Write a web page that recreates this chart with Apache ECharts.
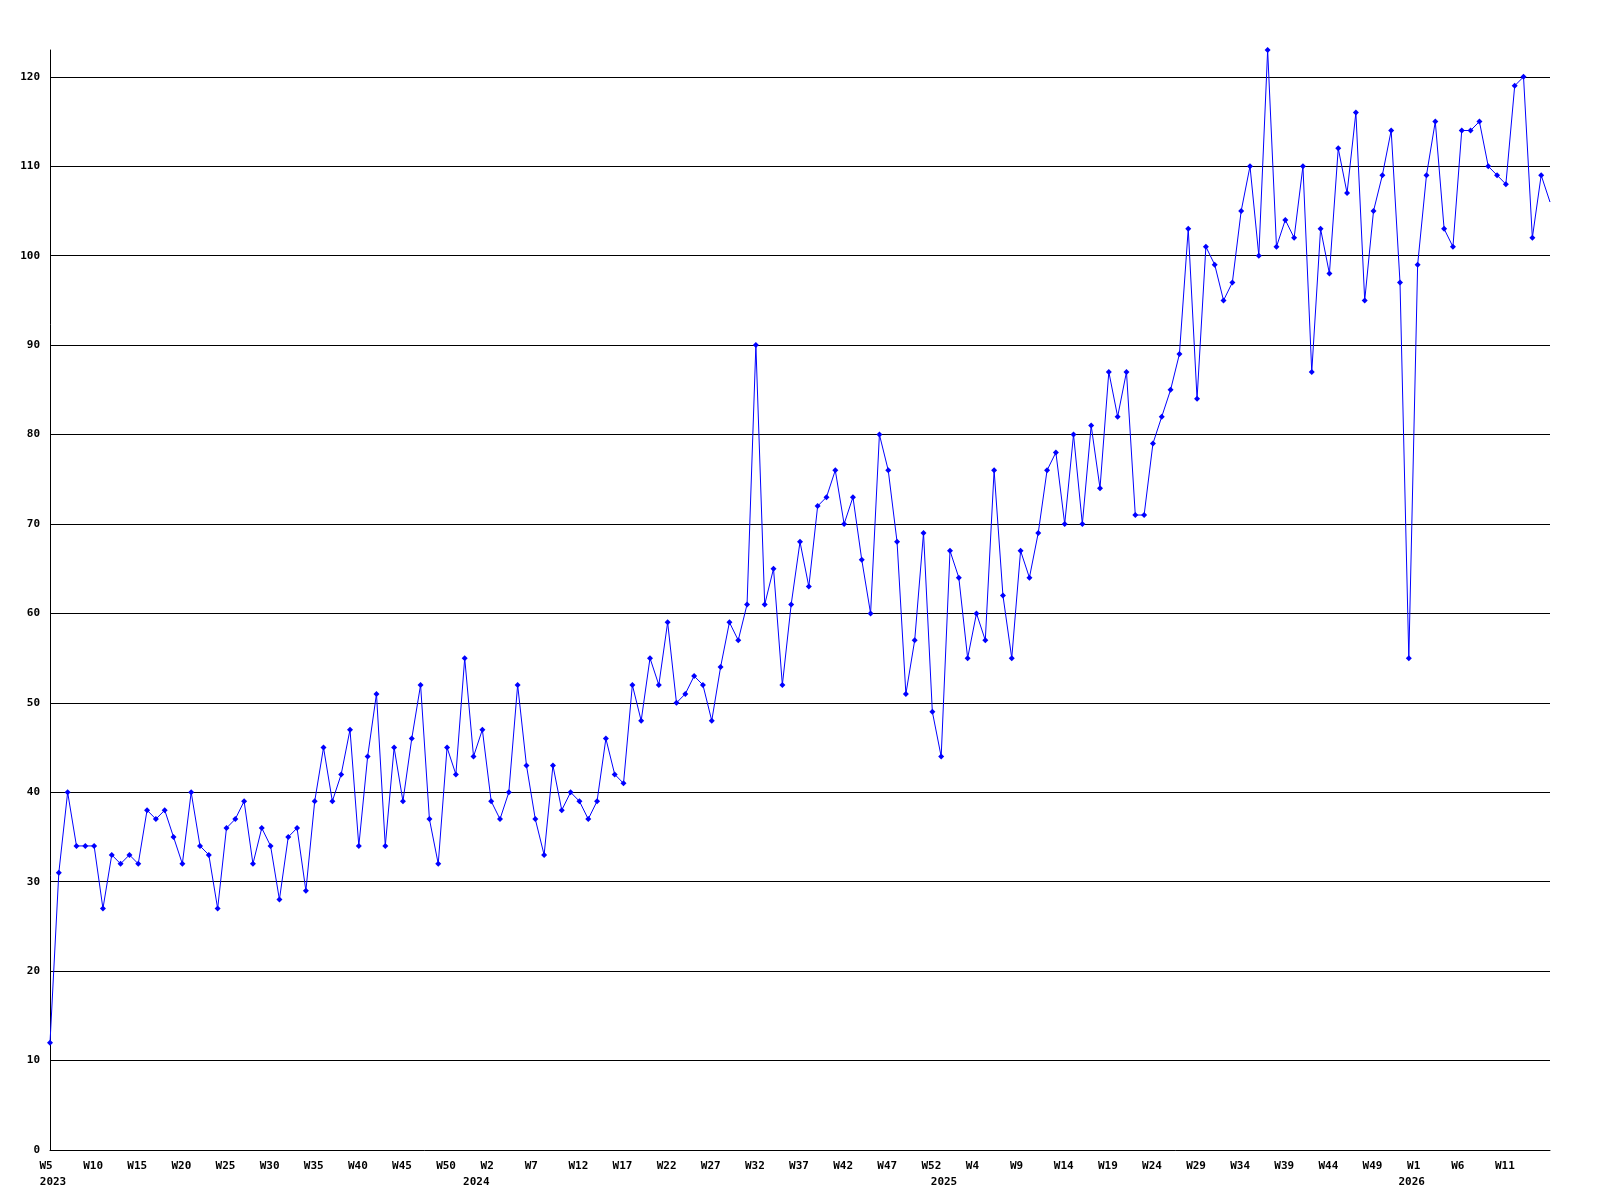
<!DOCTYPE html>
<html>
<head>
<meta charset="utf-8">
<script src="https://cdn.jsdelivr.net/npm/echarts@6/dist/echarts.min.js"></script>
<style>
html,body{margin:0;padding:0;background:#fff;}
#chart{width:1600px;height:1200px;}
</style>
</head>
<body>
<div id="chart"></div>
<script>
// Week spans per year: [year, first week, last week]
const yearSpans = [[2023, 5, 53], [2024, 1, 53], [2025, 1, 53], [2026, 1, 16]];
// Y-axis ticks
const yTicks = [0, 10, 20, 30, 40, 50, 60, 70, 80, 90, 100, 110, 120];
// Weekly values per year
const values2023 = [12,31,40,34,34,34,27,33,32,33,32,38,37,38,35,32,40,34,33,27,36,37,39,32,36,34,28,35,36,29,39,45,39,42,47,34,44,51,34,45,39,46,52,37,32,45,42,55,44];
const values2024 = [47,39,37,40,52,43,37,33,43,38,40,39,37,39,46,42,41,52,48,55,52,59,50,51,53,52,48,54,59,57,61,90,61,65,52,61,68,63,72,73,76,70,73,66,60,80,76,68,51,57,69,49,44];
const values2025 = [67,64,55,60,57,76,62,55,67,64,69,76,78,70,80,70,81,74,87,82,87,71,71,79,82,85,89,103,84,101,99,95,97,105,110,100,123,101,104,102,110,87,103,98,112,107,116,95,105,109,114,97,55];
const values2026 = [99,109,115,103,101,114,114,115,110,109,108,119,120,102,109,106];

const categories = [];
const catYear = [];
const catWeek = [];
yearSpans.forEach(function (s) {
  for (let w = s[1]; w <= s[2]; w++) {
    categories.push(s[0] + '-W' + w);
    catYear.push(s[0]);
    catWeek.push(w);
  }
});
const allValues = values2023.concat(values2024, values2025, values2026);
const seriesData = allValues.map(function (v, i) {
  return i === allValues.length - 1 ? { value: v, symbol: 'none' } : v;
});

const FONT = 'DejaVu Sans Mono';
const labelBase = { color: '#000', fontFamily: FONT, fontWeight: 'bold', fontSize: 11 };
const chart = echarts.init(document.getElementById('chart'), null, { renderer: 'canvas' });
chart.setOption({
  backgroundColor: '#ffffff',
  animation: false,
  grid: { left: 50, right: 50, top: 50, bottom: 50, containLabel: false },
  xAxis: [{
    type: 'category',
    data: categories,
    boundaryGap: false,
    position: 'bottom',
    axisLine: { show: true, lineStyle: { color: '#000', width: 1 } },
    axisTick: { show: false },
    splitLine: { show: false },
    axisLabel: Object.assign({}, labelBase, {
      interval: 4,
      margin: 8,
      lineHeight: 16,
      showMaxLabel: false,
      formatter: function (value, index) {
        const t = 'W' + catWeek[index];
        return t.length < 3 ? '{s|' + t + '}' : '{l|' + t + '}';
      },
      rich: {
        s: Object.assign({}, labelBase, { padding: [0, 8, 0, 0] }),
        l: Object.assign({}, labelBase, { padding: [0, 2, 0, 0] })
      }
    })
  }, {
    type: 'category',
    data: categories,
    boundaryGap: false,
    position: 'bottom',
    axisLine: { show: false },
    axisTick: { show: false },
    splitLine: { show: false },
    axisLabel: Object.assign({}, labelBase, {
      interval: function (index) { return index === 0 || catWeek[index] === 1; },
      margin: 24,
      lineHeight: 16,
      hideOverlap: false,
      formatter: function (value, index) {
        return index === 0 ? '{f|' + catYear[index] + '}' : '{y|' + catYear[index] + '}';
      },
      rich: {
        f: Object.assign({}, labelBase, { padding: [0, 0, 0, 6] }),
        y: Object.assign({}, labelBase, { padding: [0, 12, 0, 0] })
      }
    })
  }],
  yAxis: {
    type: 'value',
    min: yTicks[0],
    max: 123,
    interval: yTicks[1] - yTicks[0],
    axisLine: { show: true, lineStyle: { color: '#000', width: 1 } },
    axisTick: { show: false },
    splitLine: { show: true, showMinLine: false, showMaxLine: false, lineStyle: { color: '#000', width: 1 } },
    axisLabel: Object.assign({}, labelBase, {
      margin: 10,
      showMaxLabel: false,
      formatter: function (v) { return yTicks.indexOf(v) >= 0 ? String(v) : ''; }
    })
  },
  series: [{
    type: 'line',
    xAxisIndex: 0,
    data: seriesData,
    symbol: 'diamond',
    symbolSize: 6,
    showAllSymbol: true,
    clip: true,
    lineStyle: { color: '#0000ff', width: 1 },
    itemStyle: { color: '#0000ff' }
  }]
});
</script>
</body>
</html>
